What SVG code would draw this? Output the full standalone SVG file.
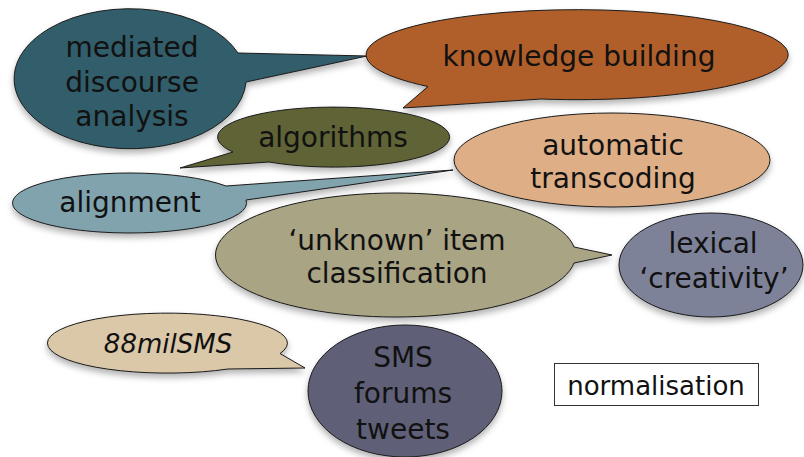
<svg xmlns="http://www.w3.org/2000/svg" width="804" height="457" viewBox="0 0 804 457">
<defs>
<filter id="sh" x="-10%" y="-10%" width="120%" height="130%">
<feDropShadow dx="0" dy="4" stdDeviation="3" flood-color="#000" flood-opacity="0.3"/>
</filter>
<style>
.b{stroke:#1a1a1a;stroke-width:1;filter:url(#sh)}
.t{font-family:"DejaVu Sans","Liberation Sans",sans-serif;font-size:28px;fill:#111;text-anchor:middle}
.i{font-style:italic;font-size:26px}
</style>
</defs>
<rect width="804" height="457" fill="#fff"/>
<g id="connectors"></g>
<g id="mediated">
<path class="b" fill="#335D6B" d="M238,53 L367,56 L246,82 A116 70 0 1 1 238,53 Z"/>
<text class="t" x="132" y="57">mediated</text>
<text class="t" x="132" y="92">discourse</text>
<text class="t" x="132" y="126">analysis</text>
</g>
<g id="knowledge">
<path class="b" fill="#B05E2B" d="M428,86.5 L403,108 L541,99 A211 45 0 1 0 428,86.5 Z"/>
<text class="t" x="579" y="66">knowledge building</text>
</g>
<g id="algorithms">
<path class="b" fill="#5F6436" d="M233,152 L180,168 L269,162 A116 30 0 1 0 233,152 Z"/>
<text class="t" x="333" y="147">algorithms</text>
</g>
<g id="alignment">
<path class="b" fill="#80A3AE" d="M226,186 L453,170 L246,200 A117 30 0 1 1 226,186 Z"/>
<text class="t" x="130" y="212">alignment</text>
</g>
<g id="automatic">
<ellipse class="b" fill="#DEAF86" cx="612" cy="160" rx="158" ry="47"/>
<text class="t" x="613" y="155">automatic</text>
<text class="t" x="613" y="188">transcoding</text>
</g>
<g id="unknown">
<path class="b" fill="#A9A483" d="M574,247 L612,255 L574,263 A180 62 0 1 1 574,247 Z"/>
<text class="t" x="397" y="250">‘unknown’ item</text>
<text class="t" x="397" y="283">classification</text>
</g>
<g id="lexical">
<ellipse class="b" fill="#7E8298" cx="711" cy="265" rx="92" ry="52"/>
<text class="t" x="713" y="253">lexical</text>
<text class="t" x="714" y="288">‘creativity’</text>
</g>
<g id="milsms">
<path class="b" fill="#DBC8A8" d="M280,353.5 L305,368 L228,369 A120 30 0 1 1 280,353.5 Z"/>
<text class="t i" x="168" y="353">88milSMS</text>
</g>
<g id="sms">
<ellipse class="b" fill="#5E6178" cx="405" cy="391" rx="97" ry="66"/>
<text class="t" x="403" y="367">SMS</text>
<text class="t" x="403" y="403">forums</text>
<text class="t" x="403" y="439">tweets</text>
</g>
<g id="normalisation">
<rect x="554.5" y="363.5" width="204" height="42" fill="#fff" stroke="#333" stroke-width="1"/>
<text class="t" x="656" y="395" style="font-size:26px">normalisation</text>
</g>
</svg>
